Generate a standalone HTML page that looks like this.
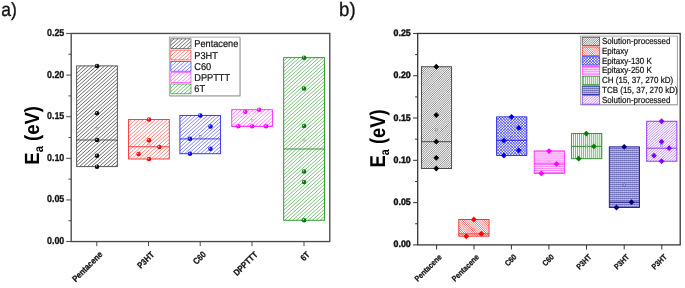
<!DOCTYPE html>
<html><head><meta charset="utf-8"><title>Ea chart</title>
<style>html,body{margin:0;padding:0;background:#fff;}body{width:685px;height:288px;overflow:hidden;}svg{display:block;text-rendering:geometricPrecision;will-change:transform;opacity:0.999;font-family:"Liberation Sans",sans-serif;}</style>
</head><body>
<svg width="685" height="288" viewBox="0 0 685 288">
<defs>
<radialGradient id="g_k" cx="0.4" cy="0.4" r="0.6" fx="0.33" fy="0.33"><stop offset="0" stop-color="#f0f0f0"/><stop offset="0.35" stop-color="#181818"/><stop offset="1" stop-color="#000000"/></radialGradient>
<radialGradient id="g_r" cx="0.4" cy="0.4" r="0.6" fx="0.33" fy="0.33"><stop offset="0" stop-color="#fff0f0"/><stop offset="0.35" stop-color="#ff1818"/><stop offset="1" stop-color="#e00000"/></radialGradient>
<radialGradient id="g_b" cx="0.4" cy="0.4" r="0.6" fx="0.33" fy="0.33"><stop offset="0" stop-color="#f0f0ff"/><stop offset="0.35" stop-color="#1818f0"/><stop offset="1" stop-color="#0000c0"/></radialGradient>
<radialGradient id="g_m" cx="0.4" cy="0.4" r="0.6" fx="0.33" fy="0.33"><stop offset="0" stop-color="#fff0ff"/><stop offset="0.35" stop-color="#ff18ff"/><stop offset="1" stop-color="#e000e0"/></radialGradient>
<radialGradient id="g_g" cx="0.4" cy="0.4" r="0.6" fx="0.33" fy="0.33"><stop offset="0" stop-color="#f0fff0"/><stop offset="0.35" stop-color="#108410"/><stop offset="1" stop-color="#007000"/></radialGradient>
</defs>
<rect width="685" height="288" fill="#ffffff"/>
<text x="1.2" y="16.2" font-size="19.3" textLength="15.6" lengthAdjust="spacingAndGlyphs" fill="#111" stroke="#111" stroke-width="0.3">a)</text>
<text x="339" y="16.2" font-size="19.5" textLength="16.6" lengthAdjust="spacingAndGlyphs" fill="#111" stroke="#111" stroke-width="0.3">b)</text>
<path d="M76.65,66.10L76.86,65.91M76.65,69.66L80.81,65.91M76.65,73.22L84.76,65.91M76.65,76.77L88.71,65.91M76.65,80.33L92.66,65.91M76.65,83.88L96.61,65.91M76.65,87.44L100.56,65.91M76.65,90.99L104.51,65.91M76.65,94.55L108.46,65.91M76.65,98.10L112.41,65.91M76.65,101.66L116.36,65.91M76.65,105.21L117.35,68.58M76.65,108.77L117.35,72.14M76.65,112.32L117.35,75.69M76.65,115.88L117.35,79.25M76.65,119.43L117.35,82.80M76.65,122.99L117.35,86.36M76.65,126.54L117.35,89.91M76.65,130.10L117.35,93.47M76.65,133.65L117.35,97.02M76.65,137.21L117.35,100.58M76.65,140.76L117.35,104.13M76.65,144.32L117.35,107.69M76.65,147.87L117.35,111.24M76.65,151.43L117.35,114.80M76.65,154.98L117.35,118.35M76.65,158.54L117.35,121.91M76.65,162.09L117.35,125.46M76.65,165.65L117.35,129.02M79.50,166.63L117.35,132.57M83.45,166.63L117.35,136.13M87.40,166.63L117.35,139.68M91.35,166.63L117.35,143.24M95.30,166.63L117.35,146.79M99.25,166.63L117.35,150.35M103.20,166.63L117.35,153.90M107.15,166.63L117.35,157.46M111.10,166.63L117.35,161.01M115.05,166.63L117.35,164.57" stroke="#484848" stroke-width="0.95" stroke-opacity="0.85" fill="none"/>
<rect x="76.65" y="65.91" width="40.70" height="100.72" fill="none" stroke="#484848" stroke-width="0.9"/>
<line x1="76.65" y1="140.00" x2="117.35" y2="140.00" stroke="#484848" stroke-width="0.9"/>
<path d="M128.60,122.45L131.94,119.44M128.60,126.00L135.89,119.44M128.60,129.56L139.84,119.44M128.60,133.11L143.79,119.44M128.60,136.67L147.74,119.44M128.60,140.22L151.69,119.44M128.60,143.78L155.64,119.44M128.60,147.33L159.59,119.44M128.60,150.89L163.54,119.44M128.60,154.44L167.49,119.44M128.60,158.00L169.30,121.37M131.46,158.98L169.30,124.92M135.41,158.98L169.30,128.48M139.36,158.98L169.30,132.03M143.31,158.98L169.30,135.59M147.26,158.98L169.30,139.14M151.21,158.98L169.30,142.70M155.16,158.98L169.30,146.25M159.11,158.98L169.30,149.81M163.06,158.98L169.30,153.36M167.01,158.98L169.30,156.92" stroke="#ff2a2a" stroke-width="0.95" stroke-opacity="0.6" fill="none"/>
<rect x="128.60" y="119.44" width="40.70" height="39.54" fill="none" stroke="#ff2a2a" stroke-width="0.9"/>
<line x1="128.60" y1="146.74" x2="169.30" y2="146.74" stroke="#ff2a2a" stroke-width="0.9"/>
<path d="M179.90,118.94L183.78,115.44M179.90,122.49L187.73,115.44M179.90,126.05L191.68,115.44M179.90,129.60L195.63,115.44M179.90,133.16L199.58,115.44M179.90,136.71L203.53,115.44M179.90,140.27L207.48,115.44M179.90,143.82L211.43,115.44M179.90,147.38L215.38,115.44M179.90,150.93L219.33,115.44M180.74,153.73L220.60,117.86M184.69,153.73L220.60,121.41M188.64,153.73L220.60,124.97M192.59,153.73L220.60,128.52M196.54,153.73L220.60,132.08M200.49,153.73L220.60,135.63M204.44,153.73L220.60,139.19M208.39,153.73L220.60,142.74M212.34,153.73L220.60,146.30M216.29,153.73L220.60,149.85M220.24,153.73L220.60,153.41" stroke="#2a2ae8" stroke-width="0.95" stroke-opacity="0.6" fill="none"/>
<rect x="179.90" y="115.44" width="40.70" height="38.29" fill="none" stroke="#2a2ae8" stroke-width="0.9"/>
<line x1="179.90" y1="138.92" x2="220.60" y2="138.92" stroke="#2a2ae8" stroke-width="0.9"/>
<path d="M231.75,111.38L233.61,109.70M231.75,114.93L237.56,109.70M231.75,118.49L241.51,109.70M231.75,122.04L245.46,109.70M231.75,125.60L249.41,109.70M234.87,126.35L253.36,109.70M238.82,126.35L257.31,109.70M242.77,126.35L261.26,109.70M246.72,126.35L265.21,109.70M250.67,126.35L269.16,109.70M254.62,126.35L272.45,110.30M258.57,126.35L272.45,113.85M262.52,126.35L272.45,117.41M266.47,126.35L272.45,120.96M270.42,126.35L272.45,124.52" stroke="#ff2aff" stroke-width="0.95" stroke-opacity="0.6" fill="none"/>
<rect x="231.75" y="109.70" width="40.70" height="16.65" fill="none" stroke="#ff2aff" stroke-width="0.9"/>
<line x1="231.75" y1="126.35" x2="272.45" y2="126.35" stroke="#ff2aff" stroke-width="0.9"/>
<path d="M283.70,61.07L287.47,57.67M283.70,64.62L291.42,57.67M283.70,68.18L295.37,57.67M283.70,71.73L299.32,57.67M283.70,75.29L303.27,57.67M283.70,78.84L307.22,57.67M283.70,82.40L311.17,57.67M283.70,85.95L315.12,57.67M283.70,89.51L319.07,57.67M283.70,93.06L323.02,57.67M283.70,96.62L324.40,59.99M283.70,100.17L324.40,63.54M283.70,103.73L324.40,67.10M283.70,107.28L324.40,70.65M283.70,110.84L324.40,74.21M283.70,114.39L324.40,77.76M283.70,117.95L324.40,81.32M283.70,121.50L324.40,84.87M283.70,125.06L324.40,88.43M283.70,128.61L324.40,91.98M283.70,132.17L324.40,95.54M283.70,135.72L324.40,99.09M283.70,139.28L324.40,102.65M283.70,142.83L324.40,106.20M283.70,146.39L324.40,109.76M283.70,149.94L324.40,113.31M283.70,153.50L324.40,116.87M283.70,157.05L324.40,120.42M283.70,160.61L324.40,123.98M283.70,164.16L324.40,127.53M283.70,167.72L324.40,131.09M283.70,171.27L324.40,134.64M283.70,174.83L324.40,138.20M283.70,178.38L324.40,141.75M283.70,181.94L324.40,145.31M283.70,185.49L324.40,148.86M283.70,189.05L324.40,152.42M283.70,192.60L324.40,155.97M283.70,196.16L324.40,159.53M283.70,199.71L324.40,163.08M283.70,203.27L324.40,166.64M283.70,206.82L324.40,170.19M283.70,210.38L324.40,173.75M283.70,213.93L324.40,177.30M283.70,217.49L324.40,180.86M284.59,220.24L324.40,184.41M288.54,220.24L324.40,187.97M292.49,220.24L324.40,191.52M296.44,220.24L324.40,195.08M300.39,220.24L324.40,198.63M304.34,220.24L324.40,202.19M308.29,220.24L324.40,205.74M312.24,220.24L324.40,209.30M316.19,220.24L324.40,212.85M320.14,220.24L324.40,216.41M324.09,220.24L324.40,219.96" stroke="#1f8f1f" stroke-width="0.95" stroke-opacity="0.6" fill="none"/>
<rect x="283.70" y="57.67" width="40.70" height="162.57" fill="none" stroke="#1f8f1f" stroke-width="0.9"/>
<line x1="283.70" y1="148.99" x2="324.40" y2="148.99" stroke="#1f8f1f" stroke-width="0.9"/>
<rect x="96.00" y="127.34" width="2.0" height="2.0" fill="#fff" fill-opacity="0.5" stroke="#484848" stroke-opacity="0.65" stroke-width="0.5"/>
<circle cx="97.00" cy="65.91" r="2.25" fill="url(#g_k)"/>
<circle cx="97.00" cy="113.36" r="2.25" fill="url(#g_k)"/>
<circle cx="97.00" cy="140.00" r="2.25" fill="url(#g_k)"/>
<circle cx="97.00" cy="155.81" r="2.25" fill="url(#g_k)"/>
<circle cx="97.00" cy="166.63" r="2.25" fill="url(#g_k)"/>
<rect x="147.95" y="142.99" width="2.0" height="2.0" fill="#fff" fill-opacity="0.5" stroke="#ff2a2a" stroke-opacity="0.65" stroke-width="0.5"/>
<circle cx="148.95" cy="119.44" r="2.25" fill="url(#g_r)"/>
<circle cx="148.95" cy="140.16" r="2.25" fill="url(#g_r)"/>
<circle cx="159.35" cy="146.99" r="2.25" fill="url(#g_r)"/>
<circle cx="138.55" cy="153.98" r="2.25" fill="url(#g_r)"/>
<circle cx="148.95" cy="159.06" r="2.25" fill="url(#g_r)"/>
<rect x="199.25" y="135.67" width="2.0" height="2.0" fill="#fff" fill-opacity="0.5" stroke="#2a2ae8" stroke-opacity="0.65" stroke-width="0.5"/>
<circle cx="200.25" cy="115.44" r="2.25" fill="url(#g_b)"/>
<circle cx="210.45" cy="126.51" r="2.25" fill="url(#g_b)"/>
<circle cx="189.95" cy="138.75" r="2.25" fill="url(#g_b)"/>
<circle cx="210.45" cy="148.74" r="2.25" fill="url(#g_b)"/>
<circle cx="189.95" cy="153.82" r="2.25" fill="url(#g_b)"/>
<rect x="251.10" y="119.44" width="2.0" height="2.0" fill="#fff" fill-opacity="0.5" stroke="#ff2aff" stroke-opacity="0.65" stroke-width="0.5"/>
<circle cx="245.30" cy="111.86" r="2.25" fill="url(#g_m)"/>
<circle cx="259.10" cy="109.70" r="2.25" fill="url(#g_m)"/>
<circle cx="238.30" cy="126.18" r="2.25" fill="url(#g_m)"/>
<circle cx="252.10" cy="126.18" r="2.25" fill="url(#g_m)"/>
<circle cx="266.00" cy="126.18" r="2.25" fill="url(#g_m)"/>
<rect x="303.05" y="138.91" width="2.0" height="2.0" fill="#fff" fill-opacity="0.5" stroke="#1f8f1f" stroke-opacity="0.65" stroke-width="0.5"/>
<circle cx="304.05" cy="57.67" r="2.25" fill="url(#g_g)"/>
<circle cx="304.05" cy="88.47" r="2.25" fill="url(#g_g)"/>
<circle cx="304.05" cy="126.01" r="2.25" fill="url(#g_g)"/>
<circle cx="304.05" cy="171.55" r="2.25" fill="url(#g_g)"/>
<circle cx="304.05" cy="182.03" r="2.25" fill="url(#g_g)"/>
<circle cx="304.05" cy="220.24" r="2.25" fill="url(#g_g)"/>
<rect x="71.2" y="33.45" width="258.60" height="208.10" fill="none" stroke="#4a4a4a" stroke-width="1.35"/>
<line x1="66.20" y1="241.55" x2="71.2" y2="241.55" stroke="#4a4a4a" stroke-width="1"/>
<text transform="translate(64.30,244.10) scale(0.89,1)" text-anchor="end" font-size="10.0" font-weight="bold" fill="#111" stroke="#111" stroke-width="0.3">0.00</text>
<line x1="68.40" y1="220.74" x2="71.2" y2="220.74" stroke="#4a4a4a" stroke-width="1"/>
<line x1="66.20" y1="199.93" x2="71.2" y2="199.93" stroke="#4a4a4a" stroke-width="1"/>
<text transform="translate(64.30,202.48) scale(0.89,1)" text-anchor="end" font-size="10.0" font-weight="bold" fill="#111" stroke="#111" stroke-width="0.3">0.05</text>
<line x1="68.40" y1="179.12" x2="71.2" y2="179.12" stroke="#4a4a4a" stroke-width="1"/>
<line x1="66.20" y1="158.31" x2="71.2" y2="158.31" stroke="#4a4a4a" stroke-width="1"/>
<text transform="translate(64.30,160.86) scale(0.89,1)" text-anchor="end" font-size="10.0" font-weight="bold" fill="#111" stroke="#111" stroke-width="0.3">0.10</text>
<line x1="68.40" y1="137.50" x2="71.2" y2="137.50" stroke="#4a4a4a" stroke-width="1"/>
<line x1="66.20" y1="116.69" x2="71.2" y2="116.69" stroke="#4a4a4a" stroke-width="1"/>
<text transform="translate(64.30,119.24) scale(0.89,1)" text-anchor="end" font-size="10.0" font-weight="bold" fill="#111" stroke="#111" stroke-width="0.3">0.15</text>
<line x1="68.40" y1="95.88" x2="71.2" y2="95.88" stroke="#4a4a4a" stroke-width="1"/>
<line x1="66.20" y1="75.07" x2="71.2" y2="75.07" stroke="#4a4a4a" stroke-width="1"/>
<text transform="translate(64.30,77.62) scale(0.89,1)" text-anchor="end" font-size="10.0" font-weight="bold" fill="#111" stroke="#111" stroke-width="0.3">0.20</text>
<line x1="68.40" y1="54.26" x2="71.2" y2="54.26" stroke="#4a4a4a" stroke-width="1"/>
<line x1="66.20" y1="33.45" x2="71.2" y2="33.45" stroke="#4a4a4a" stroke-width="1"/>
<text transform="translate(64.30,36.00) scale(0.89,1)" text-anchor="end" font-size="10.0" font-weight="bold" fill="#111" stroke="#111" stroke-width="0.3">0.25</text>
<line x1="96.80" y1="241.55" x2="96.80" y2="246.15" stroke="#4a4a4a" stroke-width="1"/>
<text transform="translate(103.10,255.05) rotate(-45) scale(0.88,1)" text-anchor="end" font-size="8.8" font-weight="bold" fill="#111" stroke="#111" stroke-width="0.25">Pentacene</text>
<line x1="148.50" y1="241.55" x2="148.50" y2="246.15" stroke="#4a4a4a" stroke-width="1"/>
<text transform="translate(154.80,255.05) rotate(-45) scale(0.88,1)" text-anchor="end" font-size="8.8" font-weight="bold" fill="#111" stroke="#111" stroke-width="0.25">P3HT</text>
<line x1="200.20" y1="241.55" x2="200.20" y2="246.15" stroke="#4a4a4a" stroke-width="1"/>
<text transform="translate(206.50,255.05) rotate(-45) scale(0.88,1)" text-anchor="end" font-size="8.8" font-weight="bold" fill="#111" stroke="#111" stroke-width="0.25">C60</text>
<line x1="252.00" y1="241.55" x2="252.00" y2="246.15" stroke="#4a4a4a" stroke-width="1"/>
<text transform="translate(258.30,255.05) rotate(-45) scale(0.88,1)" text-anchor="end" font-size="8.8" font-weight="bold" fill="#111" stroke="#111" stroke-width="0.25">DPPTTT</text>
<line x1="304.00" y1="241.55" x2="304.00" y2="246.15" stroke="#4a4a4a" stroke-width="1"/>
<text transform="translate(310.30,255.05) rotate(-45) scale(0.88,1)" text-anchor="end" font-size="8.8" font-weight="bold" fill="#111" stroke="#111" stroke-width="0.25">6T</text>
<text transform="translate(38.70,135.40) rotate(-90) scale(0.9,1)" text-anchor="middle" font-size="20.5" font-weight="bold" fill="#000">E<tspan font-size="12.5" dy="4.2">a</tspan><tspan dy="-4.2"> (eV)</tspan></text>
<rect x="169.9" y="37.7" width="70.6" height="58.699999999999996" fill="#9a9a9a"/>
<rect x="169.3" y="37.1" width="70.6" height="58.699999999999996" fill="#fff" stroke="#9a9a9a" stroke-width="0.8"/>
<path d="M170.80,41.80L174.14,38.80M170.80,45.36L178.09,38.80M171.15,48.60L182.04,38.80M175.10,48.60L185.99,38.80M179.05,48.60L189.94,38.80M183.00,48.60L191.00,41.40M186.95,48.60L191.00,44.96M190.90,48.60L191.00,48.51" stroke="#484848" stroke-width="0.95" stroke-opacity="0.85" fill="none"/>
<rect x="170.8" y="38.80" width="20.2" height="9.8" fill="none" stroke="#484848" stroke-opacity="0.85" stroke-width="0.75"/>
<text transform="translate(194.30,47.20) scale(0.92,1)" text-anchor="start" font-size="10.0" font-weight="normal" fill="#111" stroke="#111" stroke-width="0.2">Pentacene</text>
<path d="M170.80,52.47L173.43,50.10M170.80,56.03L177.38,50.10M170.80,59.58L181.33,50.10M174.39,59.90L185.28,50.10M178.34,59.90L189.23,50.10M182.29,59.90L191.00,52.07M186.24,59.90L191.00,55.62M190.19,59.90L191.00,59.18" stroke="#ff2a2a" stroke-width="0.95" stroke-opacity="0.6" fill="none"/>
<rect x="170.8" y="50.10" width="20.2" height="9.8" fill="none" stroke="#ff2a2a" stroke-opacity="0.85" stroke-width="0.75"/>
<text transform="translate(194.30,58.50) scale(0.92,1)" text-anchor="start" font-size="10.0" font-weight="normal" fill="#111" stroke="#111" stroke-width="0.2">P3HT</text>
<path d="M170.80,63.13L172.73,61.40M170.80,66.69L176.68,61.40M170.80,70.25L180.63,61.40M173.69,71.20L184.58,61.40M177.64,71.20L188.53,61.40M181.59,71.20L191.00,62.73M185.54,71.20L191.00,66.29M189.49,71.20L191.00,69.84" stroke="#2a2ae8" stroke-width="0.95" stroke-opacity="0.6" fill="none"/>
<rect x="170.8" y="61.40" width="20.2" height="9.8" fill="none" stroke="#2a2ae8" stroke-opacity="0.85" stroke-width="0.75"/>
<text transform="translate(194.30,69.80) scale(0.92,1)" text-anchor="start" font-size="10.0" font-weight="normal" fill="#111" stroke="#111" stroke-width="0.2">C60</text>
<path d="M170.80,73.80L172.02,72.70M170.80,77.35L175.97,72.70M170.80,80.91L179.92,72.70M172.98,82.50L183.87,72.70M176.93,82.50L187.82,72.70M180.88,82.50L191.00,73.40M184.83,82.50L191.00,76.95M188.78,82.50L191.00,80.51" stroke="#ff2aff" stroke-width="0.95" stroke-opacity="0.6" fill="none"/>
<rect x="170.8" y="72.70" width="20.2" height="9.8" fill="none" stroke="#ff2aff" stroke-opacity="0.85" stroke-width="0.75"/>
<text transform="translate(194.30,81.10) scale(0.92,1)" text-anchor="start" font-size="10.0" font-weight="normal" fill="#111" stroke="#111" stroke-width="0.2">DPPTTT</text>
<path d="M170.80,84.47L171.32,84.00M170.80,88.02L175.27,84.00M170.80,91.58L179.22,84.00M172.28,93.80L183.17,84.00M176.23,93.80L187.12,84.00M180.18,93.80L191.00,84.06M184.13,93.80L191.00,87.62M188.08,93.80L191.00,91.17" stroke="#1f8f1f" stroke-width="0.95" stroke-opacity="0.6" fill="none"/>
<rect x="170.8" y="84.00" width="20.2" height="9.8" fill="none" stroke="#1f8f1f" stroke-opacity="0.85" stroke-width="0.75"/>
<text transform="translate(194.30,92.40) scale(0.92,1)" text-anchor="start" font-size="10.0" font-weight="normal" fill="#111" stroke="#111" stroke-width="0.2">6T</text>
<path d="M421.40,67.00L421.65,66.75M421.40,69.20L423.85,66.75M421.40,71.40L426.05,66.75M421.40,73.60L428.25,66.75M421.40,75.80L430.45,66.75M421.40,78.00L432.65,66.75M421.40,80.20L434.85,66.75M421.40,82.40L437.05,66.75M421.40,84.60L439.25,66.75M421.40,86.80L441.45,66.75M421.40,89.00L443.65,66.75M421.40,91.20L445.85,66.75M421.40,93.40L448.05,66.75M421.40,95.60L450.25,66.75M421.40,97.80L451.60,67.60M421.40,100.00L451.60,69.80M421.40,102.20L451.60,72.00M421.40,104.40L451.60,74.20M421.40,106.60L451.60,76.40M421.40,108.80L451.60,78.60M421.40,111.00L451.60,80.80M421.40,113.20L451.60,83.00M421.40,115.40L451.60,85.20M421.40,117.60L451.60,87.40M421.40,119.80L451.60,89.60M421.40,122.00L451.60,91.80M421.40,124.20L451.60,94.00M421.40,126.40L451.60,96.20M421.40,128.60L451.60,98.40M421.40,130.80L451.60,100.60M421.40,133.00L451.60,102.80M421.40,135.20L451.60,105.00M421.40,137.40L451.60,107.20M421.40,139.60L451.60,109.40M421.40,141.80L451.60,111.60M421.40,144.00L451.60,113.80M421.40,146.20L451.60,116.00M421.40,148.40L451.60,118.20M421.40,150.60L451.60,120.40M421.40,152.80L451.60,122.60M421.40,155.00L451.60,124.80M421.40,157.20L451.60,127.00M421.40,159.40L451.60,129.20M421.40,161.60L451.60,131.40M421.40,163.80L451.60,133.60M421.40,166.00L451.60,135.80M421.40,168.20L451.60,138.00M423.30,168.50L451.60,140.20M425.50,168.50L451.60,142.40M427.70,168.50L451.60,144.60M429.90,168.50L451.60,146.80M432.10,168.50L451.60,149.00M434.30,168.50L451.60,151.20M436.50,168.50L451.60,153.40M438.70,168.50L451.60,155.60M440.90,168.50L451.60,157.80M443.10,168.50L451.60,160.00M445.30,168.50L451.60,162.20M447.50,168.50L451.60,164.40M449.70,168.50L451.60,166.60" stroke="#6a6a6a" stroke-width="0.78" stroke-opacity="1.0" fill="none"/>
<rect x="421.40" y="66.75" width="30.20" height="101.75" fill="none" stroke="#3c3c3c" stroke-width="0.9"/>
<line x1="421.40" y1="141.70" x2="451.60" y2="141.70" stroke="#3c3c3c" stroke-width="0.9"/>
<path d="M487.85,219.45L489.00,220.60M485.65,219.45L489.00,222.80M483.45,219.45L489.00,225.00M481.25,219.45L489.00,227.20M479.05,219.45L489.00,229.40M476.85,219.45L489.00,231.60M474.65,219.45L489.00,233.80M472.45,219.45L489.00,236.00M470.25,219.45L486.95,236.15M468.05,219.45L484.75,236.15M465.85,219.45L482.55,236.15M463.65,219.45L480.35,236.15M461.45,219.45L478.15,236.15M459.25,219.45L475.95,236.15M458.80,221.20L473.75,236.15M458.80,223.40L471.55,236.15M458.80,225.60L469.35,236.15M458.80,227.80L467.15,236.15M458.80,230.00L464.95,236.15M458.80,232.20L462.75,236.15M458.80,234.40L460.55,236.15" stroke="#ff4a4a" stroke-width="0.78" stroke-opacity="1.0" fill="none"/>
<rect x="458.80" y="219.45" width="30.20" height="16.70" fill="none" stroke="#ff2020" stroke-width="0.9"/>
<line x1="458.80" y1="233.85" x2="489.00" y2="233.85" stroke="#ff2020" stroke-width="0.9"/>
<path d="M496.60,117.51L497.26,116.85M496.60,120.34L500.09,116.85M496.60,123.17L502.92,116.85M496.60,126.00L505.75,116.85M496.60,128.83L508.58,116.85M496.60,131.66L511.41,116.85M496.60,134.49L514.24,116.85M496.60,137.32L517.07,116.85M496.60,140.15L519.90,116.85M496.60,142.98L522.73,116.85M496.60,145.81L525.56,116.85M496.60,148.64L526.80,118.44M496.60,151.47L526.80,121.27M496.60,154.30L526.80,124.10M498.23,155.50L526.80,126.93M501.06,155.50L526.80,129.76M503.89,155.50L526.80,132.59M506.72,155.50L526.80,135.42M509.55,155.50L526.80,138.25M512.38,155.50L526.80,141.08M515.21,155.50L526.80,143.91M518.04,155.50L526.80,146.74M520.87,155.50L526.80,149.57M523.70,155.50L526.80,152.40M526.53,155.50L526.80,155.23M524.37,116.85L526.80,119.28M521.54,116.85L526.80,122.11M518.71,116.85L526.80,124.94M515.88,116.85L526.80,127.77M513.05,116.85L526.80,130.60M510.22,116.85L526.80,133.43M507.39,116.85L526.80,136.26M504.56,116.85L526.80,139.09M501.73,116.85L526.80,141.92M498.90,116.85L526.80,144.75M496.60,117.38L526.80,147.58M496.60,120.21L526.80,150.41M496.60,123.04L526.80,153.24M496.60,125.87L526.23,155.50M496.60,128.70L523.40,155.50M496.60,131.53L520.57,155.50M496.60,134.36L517.74,155.50M496.60,137.19L514.91,155.50M496.60,140.02L512.08,155.50M496.60,142.85L509.25,155.50M496.60,145.68L506.42,155.50M496.60,148.51L503.59,155.50M496.60,151.34L500.76,155.50M496.60,154.17L497.93,155.50" stroke="#2a2ae8" stroke-width="0.72" stroke-opacity="1.0" fill="none"/>
<rect x="496.60" y="116.85" width="30.20" height="38.65" fill="none" stroke="#2a2ae8" stroke-width="0.9"/>
<line x1="496.60" y1="140.40" x2="526.80" y2="140.40" stroke="#2a2ae8" stroke-width="0.9"/>
<path d="M534.20,151.15L564.40,151.15M534.20,153.10L564.40,153.10M534.20,155.05L564.40,155.05M534.20,157.00L564.40,157.00M534.20,158.95L564.40,158.95M534.20,160.90L564.40,160.90M534.20,162.85L564.40,162.85M534.20,164.80L564.40,164.80M534.20,166.75L564.40,166.75M534.20,168.70L564.40,168.70M534.20,170.65L564.40,170.65M534.20,172.60L564.40,172.60" stroke="#ff38ff" stroke-width="0.72" stroke-opacity="1.0" fill="none"/>
<rect x="534.20" y="151.05" width="30.20" height="22.35" fill="none" stroke="#ff2aff" stroke-width="0.9"/>
<line x1="534.20" y1="163.90" x2="564.40" y2="163.90" stroke="#ff2aff" stroke-width="0.9"/>
<path d="M573.50,133.55L573.50,158.70M575.48,133.55L575.48,158.70M577.46,133.55L577.46,158.70M579.44,133.55L579.44,158.70M581.42,133.55L581.42,158.70M583.40,133.55L583.40,158.70M585.38,133.55L585.38,158.70M587.36,133.55L587.36,158.70M589.34,133.55L589.34,158.70M591.32,133.55L591.32,158.70M593.30,133.55L593.30,158.70M595.28,133.55L595.28,158.70M597.26,133.55L597.26,158.70M599.24,133.55L599.24,158.70M601.22,133.55L601.22,158.70" stroke="#1f8f1f" stroke-width="0.62" stroke-opacity="1.0" fill="none"/>
<rect x="571.60" y="133.55" width="30.20" height="25.15" fill="none" stroke="#1f8f1f" stroke-width="0.9"/>
<line x1="571.60" y1="146.40" x2="601.80" y2="146.40" stroke="#1f8f1f" stroke-width="0.9"/>
<path d="M609.30,148.35L639.50,148.35M609.30,150.35L639.50,150.35M609.30,152.35L639.50,152.35M609.30,154.35L639.50,154.35M609.30,156.35L639.50,156.35M609.30,158.35L639.50,158.35M609.30,160.35L639.50,160.35M609.30,162.35L639.50,162.35M609.30,164.35L639.50,164.35M609.30,166.35L639.50,166.35M609.30,168.35L639.50,168.35M609.30,170.35L639.50,170.35M609.30,172.35L639.50,172.35M609.30,174.35L639.50,174.35M609.30,176.35L639.50,176.35M609.30,178.35L639.50,178.35M609.30,180.35L639.50,180.35M609.30,182.35L639.50,182.35M609.30,184.35L639.50,184.35M609.30,186.35L639.50,186.35M609.30,188.35L639.50,188.35M609.30,190.35L639.50,190.35M609.30,192.35L639.50,192.35M609.30,194.35L639.50,194.35M609.30,196.35L639.50,196.35M609.30,198.35L639.50,198.35M609.30,200.35L639.50,200.35M609.30,202.35L639.50,202.35M609.30,204.35L639.50,204.35M609.30,206.35L639.50,206.35M610.10,146.85L610.10,207.50M612.10,146.85L612.10,207.50M614.10,146.85L614.10,207.50M616.10,146.85L616.10,207.50M618.10,146.85L618.10,207.50M620.10,146.85L620.10,207.50M622.10,146.85L622.10,207.50M624.10,146.85L624.10,207.50M626.10,146.85L626.10,207.50M628.10,146.85L628.10,207.50M630.10,146.85L630.10,207.50M632.10,146.85L632.10,207.50M634.10,146.85L634.10,207.50M636.10,146.85L636.10,207.50M638.10,146.85L638.10,207.50" stroke="#2a2a95" stroke-width="0.58" stroke-opacity="1.0" fill="none"/>
<rect x="609.30" y="146.85" width="30.20" height="60.65" fill="none" stroke="#15158a" stroke-width="0.9"/>
<line x1="609.30" y1="202.20" x2="639.50" y2="202.20" stroke="#15158a" stroke-width="0.9"/>
<path d="M646.70,123.57L649.28,121.25M646.70,126.09L652.08,121.25M646.70,128.61L654.88,121.25M646.70,131.13L657.68,121.25M646.70,133.65L660.48,121.25M646.70,136.17L663.28,121.25M646.70,138.69L666.08,121.25M646.70,141.21L668.88,121.25M646.70,143.73L671.68,121.25M646.70,146.25L674.48,121.25M646.70,148.77L676.90,121.59M646.70,151.29L676.90,124.11M646.70,153.81L676.90,126.63M646.70,156.33L676.90,129.15M646.70,158.85L676.90,131.67M646.89,161.20L676.90,134.19M649.69,161.20L676.90,136.71M652.49,161.20L676.90,139.23M655.29,161.20L676.90,141.75M658.09,161.20L676.90,144.27M660.89,161.20L676.90,146.79M663.69,161.20L676.90,149.31M666.49,161.20L676.90,151.83M669.29,161.20L676.90,154.35M672.09,161.20L676.90,156.87M674.89,161.20L676.90,159.39" stroke="#8a20ff" stroke-width="0.9" stroke-opacity="0.55" fill="none"/>
<rect x="646.70" y="121.25" width="30.20" height="39.95" fill="none" stroke="#8a20ff" stroke-width="0.9"/>
<line x1="646.70" y1="148.20" x2="676.90" y2="148.20" stroke="#8a20ff" stroke-width="0.9"/>
<rect x="435.30" y="129.00" width="2.0" height="2.0" fill="#fff" fill-opacity="0.5" stroke="#3c3c3c" stroke-opacity="0.65" stroke-width="0.5"/>
<path d="M433.40,66.75 L436.30,63.85 L439.20,66.75 L436.30,69.65 Z" fill="#000000"/>
<path d="M433.40,115.10 L436.30,112.20 L439.20,115.10 L436.30,118.00 Z" fill="#000000"/>
<path d="M433.40,141.70 L436.30,138.80 L439.20,141.70 L436.30,144.60 Z" fill="#000000"/>
<path d="M433.40,157.80 L436.30,154.90 L439.20,157.80 L436.30,160.70 Z" fill="#000000"/>
<path d="M433.40,168.50 L436.30,165.60 L439.20,168.50 L436.30,171.40 Z" fill="#000000"/>
<rect x="472.70" y="228.95" width="2.0" height="2.0" fill="#fff" fill-opacity="0.5" stroke="#ff2020" stroke-opacity="0.65" stroke-width="0.5"/>
<path d="M471.00,219.45 L473.90,216.55 L476.80,219.45 L473.90,222.35 Z" fill="#ff0000"/>
<path d="M478.40,233.85 L481.30,230.95 L484.20,233.85 L481.30,236.75 Z" fill="#ff0000"/>
<path d="M463.30,236.35 L466.20,233.45 L469.10,236.35 L466.20,239.25 Z" fill="#ff0000"/>
<rect x="510.50" y="137.00" width="2.0" height="2.0" fill="#fff" fill-opacity="0.5" stroke="#2a2ae8" stroke-opacity="0.65" stroke-width="0.5"/>
<path d="M508.60,116.85 L511.50,113.95 L514.40,116.85 L511.50,119.75 Z" fill="#0000f0"/>
<path d="M515.90,127.90 L518.80,125.00 L521.70,127.90 L518.80,130.80 Z" fill="#0000f0"/>
<path d="M501.00,140.40 L503.90,137.50 L506.80,140.40 L503.90,143.30 Z" fill="#0000f0"/>
<path d="M515.90,150.30 L518.80,147.40 L521.70,150.30 L518.80,153.20 Z" fill="#0000f0"/>
<path d="M501.00,155.50 L503.90,152.60 L506.80,155.50 L503.90,158.40 Z" fill="#0000f0"/>
<rect x="548.10" y="161.60" width="2.0" height="2.0" fill="#fff" fill-opacity="0.5" stroke="#ff2aff" stroke-opacity="0.65" stroke-width="0.5"/>
<path d="M546.20,151.05 L549.10,148.15 L552.00,151.05 L549.10,153.95 Z" fill="#ff00ff"/>
<path d="M553.60,163.90 L556.50,161.00 L559.40,163.90 L556.50,166.80 Z" fill="#ff00ff"/>
<path d="M538.40,173.40 L541.30,170.50 L544.20,173.40 L541.30,176.30 Z" fill="#ff00ff"/>
<rect x="585.50" y="145.00" width="2.0" height="2.0" fill="#fff" fill-opacity="0.5" stroke="#1f8f1f" stroke-opacity="0.65" stroke-width="0.5"/>
<path d="M583.40,133.55 L586.30,130.65 L589.20,133.55 L586.30,136.45 Z" fill="#008000"/>
<path d="M591.00,146.40 L593.90,143.50 L596.80,146.40 L593.90,149.30 Z" fill="#008000"/>
<path d="M575.80,158.70 L578.70,155.80 L581.60,158.70 L578.70,161.60 Z" fill="#008000"/>
<rect x="623.20" y="184.00" width="2.0" height="2.0" fill="#fff" fill-opacity="0.5" stroke="#15158a" stroke-opacity="0.65" stroke-width="0.5"/>
<path d="M621.30,146.85 L624.20,143.95 L627.10,146.85 L624.20,149.75 Z" fill="#000080"/>
<path d="M628.60,202.20 L631.50,199.30 L634.40,202.20 L631.50,205.10 Z" fill="#000080"/>
<path d="M613.60,207.50 L616.50,204.60 L619.40,207.50 L616.50,210.40 Z" fill="#000080"/>
<rect x="660.60" y="144.50" width="2.0" height="2.0" fill="#fff" fill-opacity="0.5" stroke="#8a20ff" stroke-opacity="0.65" stroke-width="0.5"/>
<path d="M658.70,121.25 L661.60,118.35 L664.50,121.25 L661.60,124.15 Z" fill="#8000ff"/>
<path d="M658.70,141.70 L661.60,138.80 L664.50,141.70 L661.60,144.60 Z" fill="#8000ff"/>
<path d="M666.20,148.20 L669.10,145.30 L672.00,148.20 L669.10,151.10 Z" fill="#8000ff"/>
<path d="M651.10,155.70 L654.00,152.80 L656.90,155.70 L654.00,158.60 Z" fill="#8000ff"/>
<path d="M658.70,161.20 L661.60,158.30 L664.50,161.20 L661.60,164.10 Z" fill="#8000ff"/>
<rect x="417.7" y="33.45" width="262.50" height="211.45" fill="none" stroke="#303030" stroke-width="1.25"/>
<line x1="413.10" y1="244.90" x2="417.7" y2="244.90" stroke="#303030" stroke-width="1"/>
<text transform="translate(410.80,247.45) scale(0.945,1)" text-anchor="end" font-size="9.4" font-weight="bold" fill="#111" stroke="#111" stroke-width="0.45">0.00</text>
<line x1="415.12" y1="223.75" x2="417.7" y2="223.75" stroke="#303030" stroke-width="1"/>
<line x1="413.10" y1="202.61" x2="417.7" y2="202.61" stroke="#303030" stroke-width="1"/>
<text transform="translate(410.80,205.16) scale(0.945,1)" text-anchor="end" font-size="9.4" font-weight="bold" fill="#111" stroke="#111" stroke-width="0.45">0.05</text>
<line x1="415.12" y1="181.47" x2="417.7" y2="181.47" stroke="#303030" stroke-width="1"/>
<line x1="413.10" y1="160.32" x2="417.7" y2="160.32" stroke="#303030" stroke-width="1"/>
<text transform="translate(410.80,162.87) scale(0.945,1)" text-anchor="end" font-size="9.4" font-weight="bold" fill="#111" stroke="#111" stroke-width="0.45">0.10</text>
<line x1="415.12" y1="139.18" x2="417.7" y2="139.18" stroke="#303030" stroke-width="1"/>
<line x1="413.10" y1="118.03" x2="417.7" y2="118.03" stroke="#303030" stroke-width="1"/>
<text transform="translate(410.80,120.58) scale(0.945,1)" text-anchor="end" font-size="9.4" font-weight="bold" fill="#111" stroke="#111" stroke-width="0.45">0.15</text>
<line x1="415.12" y1="96.88" x2="417.7" y2="96.88" stroke="#303030" stroke-width="1"/>
<line x1="413.10" y1="75.74" x2="417.7" y2="75.74" stroke="#303030" stroke-width="1"/>
<text transform="translate(410.80,78.29) scale(0.945,1)" text-anchor="end" font-size="9.4" font-weight="bold" fill="#111" stroke="#111" stroke-width="0.45">0.20</text>
<line x1="415.12" y1="54.59" x2="417.7" y2="54.59" stroke="#303030" stroke-width="1"/>
<line x1="413.10" y1="33.45" x2="417.7" y2="33.45" stroke="#303030" stroke-width="1"/>
<text transform="translate(410.80,36.00) scale(0.945,1)" text-anchor="end" font-size="9.4" font-weight="bold" fill="#111" stroke="#111" stroke-width="0.45">0.25</text>
<line x1="436.60" y1="244.9" x2="436.60" y2="249.50" stroke="#303030" stroke-width="1"/>
<text transform="translate(442.20,257.50) rotate(-45) scale(0.88,1)" text-anchor="end" font-size="7.9" font-weight="bold" fill="#111" stroke="#111" stroke-width="0.25">Pentacene</text>
<line x1="474.00" y1="244.9" x2="474.00" y2="249.50" stroke="#303030" stroke-width="1"/>
<text transform="translate(479.60,257.50) rotate(-45) scale(0.88,1)" text-anchor="end" font-size="7.9" font-weight="bold" fill="#111" stroke="#111" stroke-width="0.25">Pentacene</text>
<line x1="511.40" y1="244.9" x2="511.40" y2="249.50" stroke="#303030" stroke-width="1"/>
<text transform="translate(517.00,257.50) rotate(-45) scale(0.88,1)" text-anchor="end" font-size="7.9" font-weight="bold" fill="#111" stroke="#111" stroke-width="0.25">C60</text>
<line x1="548.90" y1="244.9" x2="548.90" y2="249.50" stroke="#303030" stroke-width="1"/>
<text transform="translate(554.50,257.50) rotate(-45) scale(0.88,1)" text-anchor="end" font-size="7.9" font-weight="bold" fill="#111" stroke="#111" stroke-width="0.25">C60</text>
<line x1="586.50" y1="244.9" x2="586.50" y2="249.50" stroke="#303030" stroke-width="1"/>
<text transform="translate(592.10,257.50) rotate(-45) scale(0.88,1)" text-anchor="end" font-size="7.9" font-weight="bold" fill="#111" stroke="#111" stroke-width="0.25">P3HT</text>
<line x1="624.20" y1="244.9" x2="624.20" y2="249.50" stroke="#303030" stroke-width="1"/>
<text transform="translate(629.80,257.50) rotate(-45) scale(0.88,1)" text-anchor="end" font-size="7.9" font-weight="bold" fill="#111" stroke="#111" stroke-width="0.25">P3HT</text>
<line x1="661.80" y1="244.9" x2="661.80" y2="249.50" stroke="#303030" stroke-width="1"/>
<text transform="translate(667.40,257.50) rotate(-45) scale(0.88,1)" text-anchor="end" font-size="7.9" font-weight="bold" fill="#111" stroke="#111" stroke-width="0.25">P3HT</text>
<text transform="translate(384.70,138.40) rotate(-90) scale(0.855,1)" text-anchor="middle" font-size="21.5" font-weight="bold" fill="#000">E<tspan font-size="12.5" dy="4.2">a</tspan><tspan dy="-4.2"> (eV)</tspan></text>
<rect x="581.1" y="36.7" width="96.79999999999995" height="68.6" fill="#9a9a9a"/>
<rect x="580.5" y="36.1" width="96.79999999999995" height="68.6" fill="#fff" stroke="#9a9a9a" stroke-width="0.8"/>
<path d="M582.20,38.20L583.20,37.20M582.20,40.40L585.40,37.20M582.20,42.60L587.60,37.20M582.20,44.80L589.80,37.20M583.60,45.60L592.00,37.20M585.80,45.60L594.20,37.20M588.00,45.60L596.40,37.20M590.20,45.60L598.60,37.20M592.40,45.60L599.70,38.30M594.60,45.60L599.70,40.50M596.80,45.60L599.70,42.70M599.00,45.60L599.70,44.90" stroke="#6a6a6a" stroke-width="0.78" stroke-opacity="1.0" fill="none"/>
<rect x="582.2" y="37.20" width="17.5" height="8.4" fill="none" stroke="#3c3c3c" stroke-width="0.7"/>
<text transform="translate(602.00,44.10) scale(0.905,1)" text-anchor="start" font-size="8.85" font-weight="normal" fill="#111" stroke="#111" stroke-width="0.2">Solution-processed</text>
<path d="M599.15,46.95L599.70,47.50M596.95,46.95L599.70,49.70M594.75,46.95L599.70,51.90M592.55,46.95L599.70,54.10M590.35,46.95L598.75,55.35M588.15,46.95L596.55,55.35M585.95,46.95L594.35,55.35M583.75,46.95L592.15,55.35M582.20,47.60L589.95,55.35M582.20,49.80L587.75,55.35M582.20,52.00L585.55,55.35M582.20,54.20L583.35,55.35" stroke="#ff4a4a" stroke-width="0.78" stroke-opacity="1.0" fill="none"/>
<rect x="582.2" y="46.95" width="17.5" height="8.4" fill="none" stroke="#ff2020" stroke-width="0.7"/>
<text transform="translate(602.00,53.85) scale(0.905,1)" text-anchor="start" font-size="8.85" font-weight="normal" fill="#111" stroke="#111" stroke-width="0.2">Epitaxy</text>
<path d="M582.20,57.38L582.88,56.70M582.20,60.21L585.71,56.70M582.20,63.04L588.54,56.70M582.97,65.10L591.37,56.70M585.80,65.10L594.20,56.70M588.63,65.10L597.03,56.70M591.46,65.10L599.70,56.86M594.29,65.10L599.70,59.69M597.12,65.10L599.70,62.52M597.23,56.70L599.70,59.17M594.40,56.70L599.70,62.00M591.57,56.70L599.70,64.83M588.74,56.70L597.14,65.10M585.91,56.70L594.31,65.10M583.08,56.70L591.48,65.10M582.20,58.65L588.65,65.10M582.20,61.48L585.82,65.10M582.20,64.31L582.99,65.10" stroke="#2a2ae8" stroke-width="0.72" stroke-opacity="1.0" fill="none"/>
<rect x="582.2" y="56.70" width="17.5" height="8.4" fill="none" stroke="#2a2ae8" stroke-width="0.7"/>
<text transform="translate(602.00,63.60) scale(0.905,1)" text-anchor="start" font-size="8.85" font-weight="normal" fill="#111" stroke="#111" stroke-width="0.2">Epitaxy-130 K</text>
<path d="M582.20,67.30L599.70,67.30M582.20,69.25L599.70,69.25M582.20,71.20L599.70,71.20M582.20,73.15L599.70,73.15" stroke="#ff38ff" stroke-width="0.72" stroke-opacity="1.0" fill="none"/>
<rect x="582.2" y="66.45" width="17.5" height="8.4" fill="none" stroke="#ff2aff" stroke-width="0.7"/>
<text transform="translate(602.00,73.35) scale(0.905,1)" text-anchor="start" font-size="8.85" font-weight="normal" fill="#111" stroke="#111" stroke-width="0.2">Epitaxy-250 K</text>
<path d="M583.40,76.20L583.40,84.60M585.38,76.20L585.38,84.60M587.36,76.20L587.36,84.60M589.34,76.20L589.34,84.60M591.32,76.20L591.32,84.60M593.30,76.20L593.30,84.60M595.28,76.20L595.28,84.60M597.26,76.20L597.26,84.60M599.24,76.20L599.24,84.60" stroke="#1f8f1f" stroke-width="0.62" stroke-opacity="1.0" fill="none"/>
<rect x="582.2" y="76.20" width="17.5" height="8.4" fill="none" stroke="#1f8f1f" stroke-width="0.7"/>
<text transform="translate(602.00,83.10) scale(0.905,1)" text-anchor="start" font-size="8.85" font-weight="normal" fill="#111" stroke="#111" stroke-width="0.2">CH (15, 37, 270 kD)</text>
<path d="M582.20,86.35L599.70,86.35M582.20,88.35L599.70,88.35M582.20,90.35L599.70,90.35M582.20,92.35L599.70,92.35M582.20,94.35L599.70,94.35M584.10,85.95L584.10,94.35M586.10,85.95L586.10,94.35M588.10,85.95L588.10,94.35M590.10,85.95L590.10,94.35M592.10,85.95L592.10,94.35M594.10,85.95L594.10,94.35M596.10,85.95L596.10,94.35M598.10,85.95L598.10,94.35" stroke="#2a2a95" stroke-width="0.58" stroke-opacity="1.0" fill="none"/>
<rect x="582.2" y="85.95" width="17.5" height="8.4" fill="none" stroke="#15158a" stroke-width="0.7"/>
<text transform="translate(602.00,92.85) scale(0.905,1)" text-anchor="start" font-size="8.85" font-weight="normal" fill="#111" stroke="#111" stroke-width="0.2">TCB (15, 37, 270 kD)</text>
<path d="M582.20,95.94L582.47,95.70M582.20,98.46L585.27,95.70M582.20,100.98L588.07,95.70M582.20,103.50L590.87,95.70M584.33,104.10L593.67,95.70M587.13,104.10L596.47,95.70M589.93,104.10L599.27,95.70M592.73,104.10L599.70,97.83M595.53,104.10L599.70,100.35M598.33,104.10L599.70,102.87" stroke="#8a20ff" stroke-width="0.9" stroke-opacity="0.55" fill="none"/>
<rect x="582.2" y="95.70" width="17.5" height="8.4" fill="none" stroke="#8a20ff" stroke-width="0.7"/>
<text transform="translate(602.00,102.60) scale(0.905,1)" text-anchor="start" font-size="8.85" font-weight="normal" fill="#111" stroke="#111" stroke-width="0.2">Solution-processed</text>
</svg></body></html>
